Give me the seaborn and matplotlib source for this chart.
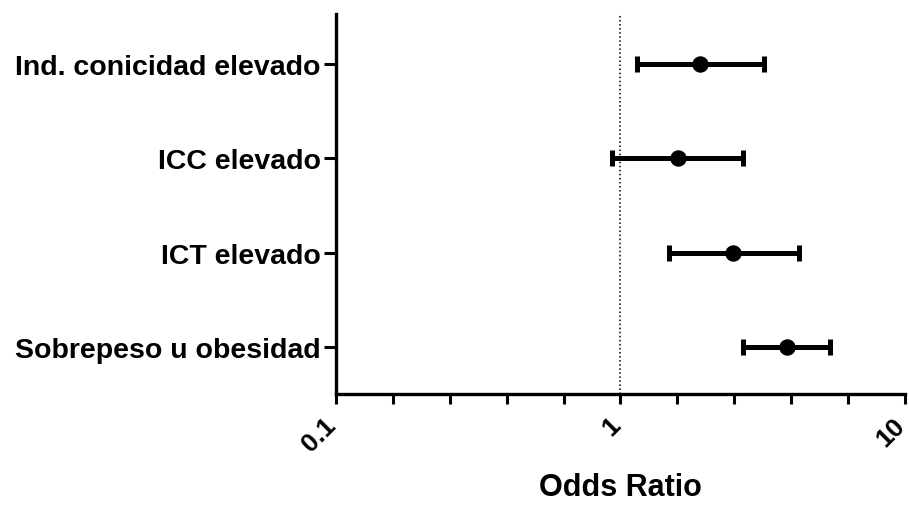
import numpy as np
import pandas as pd
import seaborn as sns
import matplotlib.pyplot as plt
import matplotlib.transforms as mtransforms
from matplotlib.ticker import FixedLocator, NullFormatter

# odds ratios with 95% CI
labels = ["Ind. conicidad elevado", "ICC elevado", "ICT elevado", "Sobrepeso u obesidad"]
odds = [1.91, 1.59, 2.49, 3.86]
ci_low = [1.14, 0.93, 1.48, 2.69]
ci_high = [3.20, 2.70, 4.25, 5.45]

df = pd.DataFrame({"label": labels, "or": odds, "lo": ci_low, "hi": ci_high})
df["pos"] = np.arange(len(df))

sns.set_style("ticks")
plt.rcParams["font.family"] = ["Liberation Sans", "DejaVu Sans"]
plt.rcParams["font.weight"] = "bold"
for key in ["text.color", "axes.labelcolor", "xtick.color", "ytick.color", "axes.edgecolor"]:
    plt.rcParams[key] = "black"

fig = plt.figure(figsize=(9.09, 5.06), dpi=100)
ax = fig.add_axes([0.3696, 0.2194, 0.6260, 0.7510])

# reference line at OR = 1
ax.axvline(1, color="black", linestyle=":", linewidth=1.1, zorder=1)

# confidence intervals
ax.errorbar(df["or"], df["pos"],
            xerr=[df["or"] - df["lo"], df["hi"] - df["or"]],
            fmt="none", ecolor="black", elinewidth=3.6, capsize=5.5, capthick=3.6, zorder=2)

sns.scatterplot(data=df, x="or", y="pos", color="black", s=140, edgecolor="black",
                linewidth=0, zorder=3, ax=ax, legend=False)

ax.set_xscale("log")
ax.set_xlim(0.1, 10)
ax.set_ylim(3.5, -0.53)

ax.xaxis.set_major_locator(FixedLocator([0.1, 1, 10]))
ax.xaxis.set_minor_locator(FixedLocator([10 ** (-1 + 0.2 * k) for k in range(11) if k % 5]))
ax.xaxis.set_minor_formatter(NullFormatter())

ax.set_yticks(df["pos"])
ax.set_yticklabels(df["label"], fontsize=20.5, fontweight="bold")

ax.tick_params(axis="x", which="both", length=7, width=2.2, color="black", pad=6)
ax.tick_params(axis="y", length=9, width=2.2, color="black", pad=2)

ax.set_xticklabels(["0.1", "1", "10"], rotation=45, ha="right", va="center",
                   rotation_mode="anchor", fontsize=19, fontweight="bold")
# nudge the rotated labels so their upper end sits at the tick
# (done after tick_params, which would reset the transform)
shift = mtransforms.ScaledTranslation(-4 / 100, -9 / 100, fig.dpi_scale_trans)
for t in ax.get_xticklabels():
    t.set_transform(t.get_transform() + shift)

for side in ["left", "bottom"]:
    ax.spines[side].set_linewidth(2.4)
sns.despine(ax=ax)

ax.set_xlabel("Odds Ratio", fontsize=22, fontweight="bold", labelpad=12)
ax.set_ylabel("")

fig.savefig("out.png", dpi=100)
